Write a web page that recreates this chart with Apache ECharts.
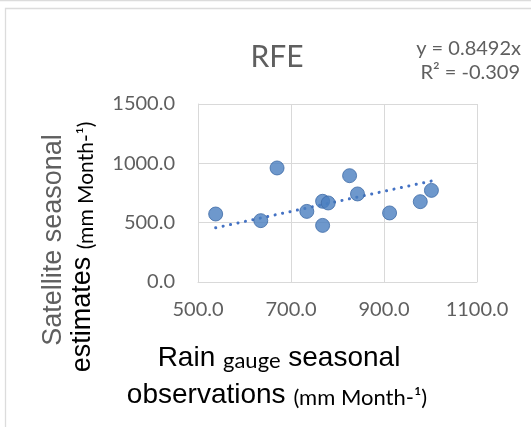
<!DOCTYPE html>
<html>
<head>
<meta charset="utf-8">
<script src="https://cdn.jsdelivr.net/npm/echarts@6/dist/echarts.min.js"></script>
<style>
html,body{margin:0;padding:0;background:#fff;}
#chart{width:531px;height:427px;}
</style>
</head>
<body>
<div id="chart"></div>
<script>
// Data
var gaugeObs = [538, 635, 670, 734, 768, 780, 768, 826, 843, 912, 978, 1002];
var satEst   = [573, 517, 961, 595, 680, 666, 477, 896, 742, 582, 677, 772];
var trendSlope = 0.8492;
var xTicks = { min: 500, max: 1100, interval: 200 };
var yTicks = { min: 0, max: 1500, interval: 500 };
var titleText = 'RFE';
var eqLine1 = 'y = 0.8492x';
var eqLine2 = 'R² = -0.309';

var points = gaugeObs.map(function (x, i) { return [x, satEst[i]]; });
var xMin = Math.min.apply(null, gaugeObs), xMax = Math.max.apply(null, gaugeObs);
var trend = [[xMin, trendSlope * xMin], [xMax, trendSlope * xMax]];

var txt = '#5f5f5f', grid = '#d9d9d9';
var bigRich = { fontFamily: 'Liberation Sans', fontSize: 28, lineHeight: 28, color: txt, verticalAlign: 'bottom' };
var smallRich = { fontFamily: 'Lato', fontSize: 22, lineHeight: 28, color: txt, verticalAlign: 'bottom' };
var chart = echarts.init(document.getElementById('chart'), null, { renderer: 'canvas' });
chart.setOption({
  backgroundColor: '#fff',
  animation: false,
  title: [
    { text: titleText, left: 272, top: 52, textAlign: 'center', textVerticalAlign: 'middle',
      textStyle: { fontFamily: 'Lato', fontSize: 30, fontWeight: 'normal', color: txt } }
  ],
  grid: { left: 198, right: 54, top: 104, bottom: 145, containLabel: false },
  xAxis: {
    type: 'value', min: xTicks.min, max: xTicks.max, interval: xTicks.interval,
    axisLine: { show: true, lineStyle: { color: grid, width: 1 } },
    axisTick: { show: false },
    splitLine: { show: true, lineStyle: { color: grid, width: 1 } },
    axisLabel: { margin: 18, color: txt, fontFamily: 'Lato', fontSize: 20,
      formatter: function (v) { return v.toFixed(1); } }
  },
  yAxis: {
    type: 'value', min: yTicks.min, max: yTicks.max, interval: yTicks.interval,
    axisLine: { show: true, lineStyle: { color: grid, width: 1 } },
    axisTick: { show: false },
    splitLine: { show: true, lineStyle: { color: grid, width: 1 } },
    axisLabel: { margin: 23, color: txt, fontFamily: 'Lato', fontSize: 20,
      formatter: function (v) { return v.toFixed(1); } }
  },
  series: [
    { type: 'line', data: trend, symbol: 'none', silent: true, z: 2,
      lineStyle: { color: '#4472C4', width: 3, type: [0.1, 7.5], cap: 'round' } },
    { type: 'scatter', data: points, symbol: 'circle', symbolSize: 14, z: 3,
      itemStyle: { color: '#4a7ebf', borderColor: '#3d6aa6', borderWidth: 1 } }
  ],
  graphic: [
    { type: 'line', shape: { x1: 0, y1: 0.5, x2: 531, y2: 0.5 }, style: { stroke: '#dcdcdc', lineWidth: 1.5 }, silent: true },
    { type: 'rect', shape: { x: 5.5, y: 8.5, width: 700, height: 700 }, style: { fill: null, stroke: '#dcdcdc', lineWidth: 1.3 }, silent: true },
    { type: 'text', x: 521, y: 49, silent: true,
      style: { text: eqLine1, align: 'right', verticalAlign: 'middle', fontFamily: 'Lato', fontSize: 20, fill: txt } },
    { type: 'text', x: 520, y: 73, silent: true,
      style: { text: eqLine2, align: 'right', verticalAlign: 'middle', fontFamily: 'Lato', fontSize: 20, fill: txt } },
    { type: 'text', x: 279, y: 358, silent: true,
      style: { text: '{a|Rain }{b|gauge}{a| seasonal}', align: 'center', verticalAlign: 'middle',
        rich: { a: bigRich, b: smallRich } } },
    { type: 'text', x: 277, y: 395, silent: true,
      style: { text: '{a|observations }{b|(mm Month-¹)}', align: 'center', verticalAlign: 'middle',
        rich: { a: bigRich, b: smallRich } } },
    { type: 'text', x: 54, y: 240, rotation: Math.PI / 2, silent: true,
      style: { text: 'Satellite seasonal', align: 'center', verticalAlign: 'middle',
        fontFamily: 'Liberation Sans', fontSize: 27, fill: txt } },
    { type: 'text', x: 83, y: 247, rotation: Math.PI / 2, silent: true,
      style: { text: '{a|estimates }{b|(mm Month-¹)}', align: 'center', verticalAlign: 'middle',
        rich: { a: { fontFamily: 'Liberation Sans', fontSize: 27, lineHeight: 27, color: txt, verticalAlign: 'bottom' },
                b: { fontFamily: 'Lato', fontSize: 21, lineHeight: 27, color: txt, verticalAlign: 'bottom' } } } }
  ]
});
</script>
</body>
</html>
